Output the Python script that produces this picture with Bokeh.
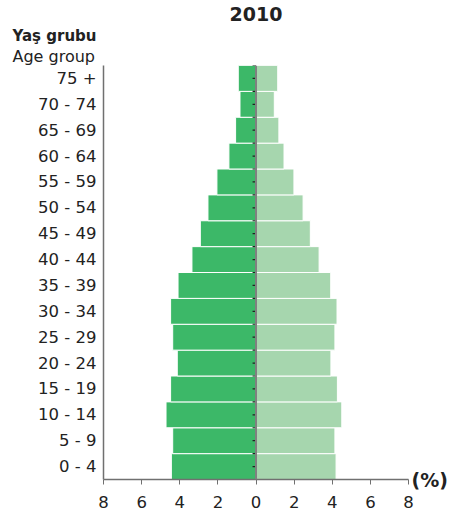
from bokeh.plotting import figure
from bokeh.models import ColumnDataSource, FixedTicker, Span, Title, LinearAxis
from bokeh.embed import file_html
from bokeh.resources import INLINE

# ---- data (bottom to top) ----
age_groups = ["0 - 4", "5 - 9", "10 - 14", "15 - 19", "20 - 24", "25 - 29", "30 - 34",
              "35 - 39", "40 - 44", "45 - 49", "50 - 54", "55 - 59", "60 - 64",
              "65 - 69", "70 - 74", "75 +"]
male = [4.44, 4.37, 4.72, 4.48, 4.13, 4.37, 4.48, 4.09, 3.36, 2.92, 2.52, 2.05, 1.42, 1.07, 0.84, 0.93]
female = [4.20, 4.14, 4.50, 4.27, 3.93, 4.14, 4.25, 3.92, 3.31, 2.85, 2.47, 1.99, 1.47, 1.20, 0.96, 1.14]
x_ticks = [-8, -6, -4, -2, 0, 2, 4, 6, 8]

FONT = "DejaVu Sans"
DARK = "#3cb868"
LIGHT = "#a6d6ae"
AXIS = "#707070"
TEXT = "#222222"

n = len(age_groups)
ypos = [i + 0.5 for i in range(n)]
src = ColumnDataSource(dict(y=ypos, male=[-v for v in male], female=female, zero=[0] * n))

p = figure(width=453, height=516, x_range=(-8, 8), y_range=(0, n), title=None,
           output_backend="svg", toolbar_location=None,
           min_border_left=103, min_border_right=45, min_border_top=64, min_border_bottom=37)
p.outline_line_color = None
p.xgrid.visible = False
p.ygrid.visible = False
p.background_fill_color = "white"

p.hbar(y="y", left="male", right="zero", height=1, source=src,
       fill_color=DARK, line_color="white", line_width=1)
p.hbar(y="y", left="zero", right="female", height=1, source=src,
       fill_color=LIGHT, line_color="white", line_width=1)

# centre line with small ticks
p.add_layout(Span(location=0, dimension="height", line_color="#808080", line_width=2))
tick_y = [i * 0.5 for i in range(2 * n + 1)]
p.segment(x0=[-0.18] * len(tick_y), y0=tick_y, x1=[0] * len(tick_y), y1=tick_y,
          line_color=TEXT, line_width=1.2)

# y axis
yax = p.yaxis[0]
yax.ticker = FixedTicker(ticks=ypos)
yax.major_label_overrides = {y: lab for y, lab in zip(ypos, age_groups)}
yax.major_tick_line_color = None
yax.major_tick_out = 0
yax.major_tick_in = 0
yax.minor_tick_line_color = None
yax.axis_line_color = AXIS
yax.axis_line_width = 1.5
yax.major_label_standoff = 7
yax.major_label_text_font = FONT
yax.major_label_text_font_size = "16.5px"
yax.major_label_text_color = TEXT

# x axis
xax = p.xaxis[0]
xax.ticker = FixedTicker(ticks=x_ticks)
xax.major_label_overrides = {t: str(abs(t)) for t in x_ticks}
xax.minor_tick_line_color = None
xax.major_tick_in = 0
xax.major_tick_out = 5
xax.major_tick_line_color = AXIS
xax.axis_line_color = AXIS
xax.axis_line_width = 1.5
xax.major_label_standoff = 11
xax.major_label_text_font = FONT
xax.major_label_text_font_size = "16.5px"
xax.major_label_text_color = TEXT

# "(%)" unit marker at the end of the x axis (right-side axis with one tick at the baseline)
unit_axis = LinearAxis(ticker=FixedTicker(ticks=[0]), major_label_overrides={0: "(%)"},
                       axis_line_color=None, major_tick_line_color=None,
                       major_tick_out=0, major_tick_in=0,
                       minor_tick_line_color=None, major_label_standoff=3,
                       major_label_text_font=FONT, major_label_text_font_style="bold",
                       major_label_text_font_size="19px", major_label_text_color=TEXT)
p.add_layout(unit_axis, "right")

# header texts (first added = closest to the plot)
p.add_layout(Title(text="Age group", align="left", offset=-91, standoff=0,
                   text_font=FONT, text_font_size="16px", text_font_style="normal",
                   text_color=TEXT), "above")
p.add_layout(Title(text="Yaş grubu", align="left", offset=-91, standoff=0,
                   text_font=FONT, text_font_size="15px", text_font_style="bold",
                   text_color=TEXT), "above")
p.add_layout(Title(text="2010", align="center", standoff=8,
                   text_font=FONT, text_font_size="19px", text_font_style="bold",
                   text_color=TEXT), "above")

open("out.html", "w").write(file_html(p, INLINE))
